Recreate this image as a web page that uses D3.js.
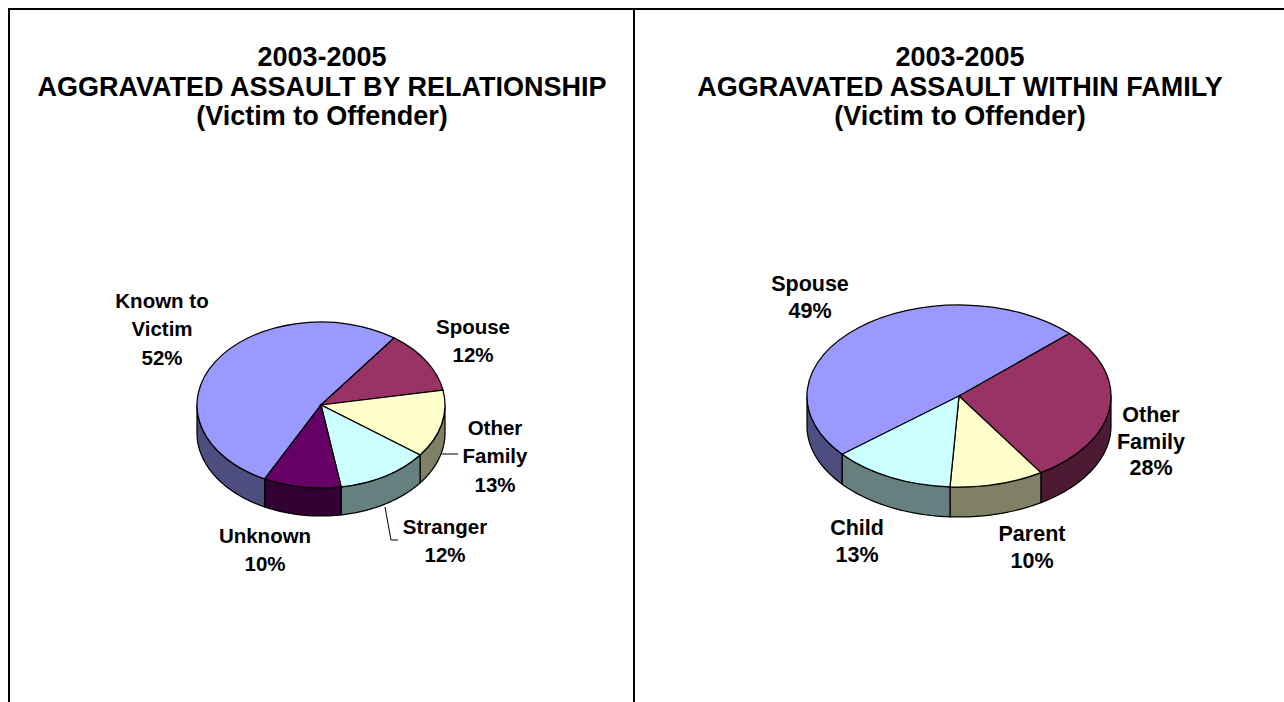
<!DOCTYPE html>
<html lang="en">
<head>
    <meta charset="UTF-8">
    <title>Aggravated assault 2003-2005</title>
    <script src="https://d3js.org/d3.v7.min.js"></script>
    <style>
        html, body { margin: 0; padding: 0; background: #fff; overflow: hidden; }
        text { font-family: "Liberation Sans", Arial, sans-serif; font-weight: bold; fill: #000; }
    </style>
</head>
<body>
<div id="chart"></div>
<script>
    const titleYears = "2003-2005";
    const titleSub = "(Victim to Offender)";

    const relationshipTitle = "AGGRAVATED ASSAULT BY RELATIONSHIP";
    const relationshipCats = ["Known to Victim", "Spouse", "Other Family", "Stranger", "Unknown"];
    const relationshipVals = [52, 12, 13, 12, 10];

    const familyTitle = "AGGRAVATED ASSAULT WITHIN FAMILY";
    const familyCats = ["Spouse", "Other Family", "Parent", "Child"];
    const familyVals = [49, 28, 10, 13];

    const relationshipColors = ["#9999ff", "#993366", "#ffffcc", "#ccffff", "#660066"];
    const familyColors = ["#9999ff", "#993366", "#ffffcc", "#ccffff"];

    const width = 1284, height = 702;
    const svg = d3.select("#chart").append("svg")
        .attr("width", width)
        .attr("height", height)
        .attr("viewBox", [0, 0, width, height]);

    // panel frame
    const frame = svg.append("g").attr("stroke", "#000").attr("stroke-width", 2);
    frame.append("line").attr("x1", 9).attr("x2", width).attr("y1", 9).attr("y2", 9);
    frame.append("line").attr("x1", 9).attr("x2", 9).attr("y1", 8).attr("y2", height);
    frame.append("line").attr("x1", 634).attr("x2", 634).attr("y1", 8).attr("y2", height);

    // point on the tilted pie for an angle measured clockwise from the top
    function rim(p, a, drop = 0) {
        return [p.cx + p.rx * Math.sin(a), p.cy - p.ry * Math.cos(a) + drop];
    }

    function drawPie(p) {
        const g = svg.append("g");
        const title = g.append("g").attr("text-anchor", "middle").attr("font-size", p.titleSize);
        [titleYears, p.title, titleSub].forEach((t, i) => {
            title.append("text").attr("x", p.titleX).attr("y", 66 + i * 29.5).text(t);
        });

        const start = p.start * Math.PI / 180;
        const pie = d3.pie().sort(null).startAngle(start).endAngle(start + 2 * Math.PI);
        const arcs = pie(p.vals);
        const line = d3.line();

        // side wall, only the part of the rim facing the viewer
        const walls = g.append("g");
        arcs.forEach((d, i) => {
            for (const k of [0, 1]) {
                const lo = Math.max(d.startAngle, Math.PI / 2 + k * 2 * Math.PI);
                const hi = Math.min(d.endAngle, 3 * Math.PI / 2 + k * 2 * Math.PI);
                if (hi <= lo) continue;
                const steps = d3.range(0, 41).map(s => lo + (hi - lo) * s / 40);
                const top = steps.map(a => rim(p, a));
                const bottom = steps.slice().reverse().map(a => rim(p, a, p.depth));
                walls.append("path")
                    .attr("d", line(top.concat(bottom)) + "Z")
                    .attr("fill", d3.interpolateRgb(p.colors[i], "#000")(0.5))
                    .attr("stroke", "#000")
                    .attr("stroke-width", 1.25)
                    .attr("stroke-linejoin", "round");
            }
        });

        // top faces
        const arc = d3.arc().innerRadius(0).outerRadius(p.rx);
        g.append("g")
            .attr("transform", `translate(${p.cx},${p.cy}) scale(1,${p.ry / p.rx})`)
            .selectAll("path")
            .data(arcs)
            .join("path")
            .attr("d", arc)
            .attr("fill", (d, i) => p.colors[i])
            .attr("stroke", "#000")
            .attr("stroke-width", 1.25)
            .attr("vector-effect", "non-scaling-stroke");

        // leader lines
        g.append("g").selectAll("path")
            .data(p.leaders)
            .join("path")
            .attr("d", d => line(d))
            .attr("fill", "none")
            .attr("stroke", "#000")
            .attr("stroke-width", 1);

        // data labels
        const labels = g.append("g").attr("text-anchor", "middle").attr("font-size", p.labelSize);
        p.labelPos.forEach((pos, i) => {
            const rows = pos.lines.concat(p.vals[i] + "%");
            rows.forEach((t, j) => {
                labels.append("text").attr("x", pos.x).attr("y", pos.y + j * p.labelGap).text(t);
            });
        });
    }

    drawPie({
        title: relationshipTitle, vals: relationshipVals, colors: relationshipColors,
        titleX: 322, titleSize: 27, labelSize: 20.5, labelGap: 28.4,
        cx: 321, cy: 405, rx: 124, ry: 83, depth: 28, start: 207,
        labelPos: [
            { lines: ["Known to", "Victim"], x: 162, y: 308 },
            { lines: ["Spouse"], x: 473, y: 334 },
            { lines: ["Other", "Family"], x: 495, y: 435 },
            { lines: ["Stranger"], x: 445, y: 534 },
            { lines: ["Unknown"], x: 265, y: 543 }
        ],
        leaders: [[[442, 454], [458, 454]], [[385, 507], [391, 540], [398, 540]]]
    });

    drawPie({
        title: familyTitle, vals: familyVals, colors: familyColors,
        titleX: 960, titleSize: 27, labelSize: 21.5, labelGap: 26.6,
        cx: 959, cy: 396, rx: 152, ry: 91, depth: 30, start: 230.2,
        labelPos: [
            { lines: ["Spouse"], x: 810, y: 291 },
            { lines: ["Other", "Family"], x: 1151, y: 422 },
            { lines: ["Parent"], x: 1032, y: 541 },
            { lines: ["Child"], x: 857, y: 535 }
        ],
        leaders: []
    });
</script>
</body>
</html>
